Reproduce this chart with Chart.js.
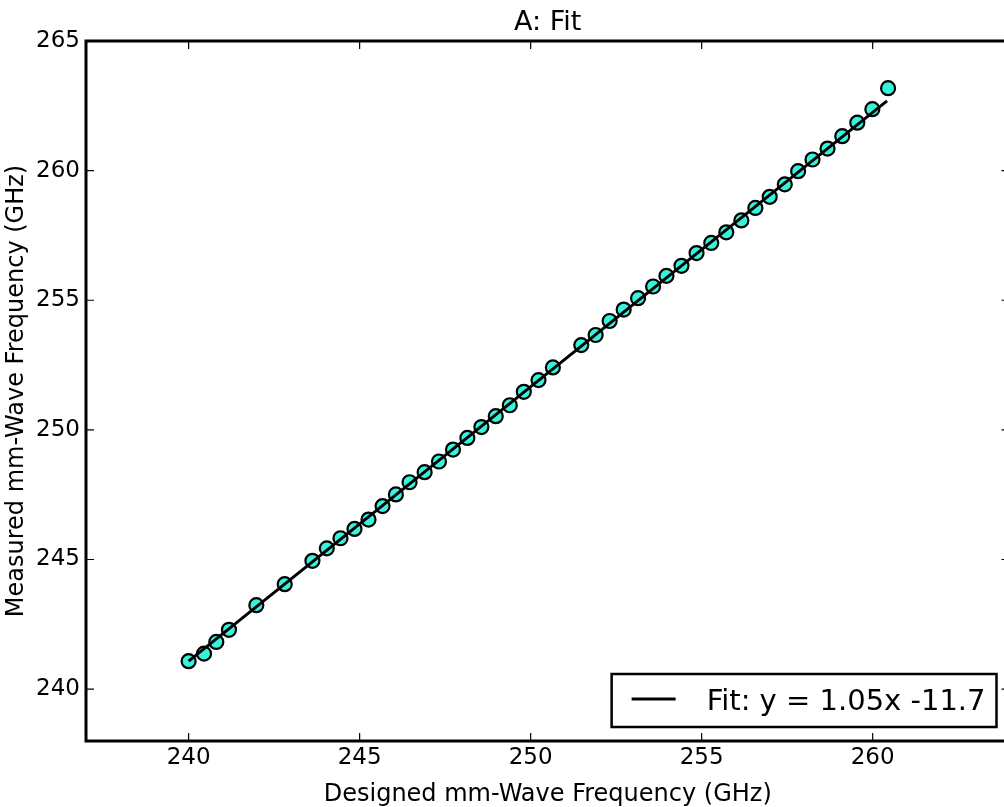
<!DOCTYPE html>
<html>
<head>
<meta charset="utf-8">
<script src="https://cdn.jsdelivr.net/npm/chart.js@4/dist/chart.umd.min.js"></script>
<style>
  html, body { margin: 0; padding: 0; background: #fff; overflow: hidden; }
  #wrap { width: 1012px; height: 807px; }
</style>
</head>
<body>
<div id="wrap"><canvas id="fitChart" width="1012" height="807"></canvas></div>
<script>
// data
const designedFreq = [240.0, 240.45, 240.81, 241.18, 241.98, 242.81, 243.62, 244.04, 244.44, 244.85,
  245.26, 245.67, 246.06, 246.46, 246.9, 247.32, 247.73, 248.15, 248.56, 248.98,
  249.39, 249.8, 250.23, 250.65, 251.48, 251.9, 252.31, 252.72, 253.14, 253.58,
  253.97, 254.41, 254.85, 255.28, 255.72, 256.16, 256.57, 256.99, 257.43, 257.82,
  258.24, 258.68, 259.11, 259.55, 259.99, 260.45];
const measuredFreq = [241.08, 241.37, 241.82, 242.29, 243.24, 244.05, 244.95, 245.43, 245.82, 246.18,
  246.54, 247.06, 247.51, 247.98, 248.37, 248.78, 249.24, 249.69, 250.11, 250.53,
  250.95, 251.47, 251.92, 252.41, 253.27, 253.66, 254.2, 254.64, 255.08, 255.53,
  255.94, 256.33, 256.82, 257.21, 257.62, 258.08, 258.56, 258.99, 259.47, 259.98,
  260.43, 260.85, 261.33, 261.85, 262.37, 263.18];
const fitX = [240.0, 260.42];
const fitY = [241.08, 262.69];
const fitLabel = "Fit: y = 1.05x -11.7";
const xTicks = [240, 245, 250, 255, 260];
const yTicks = [240, 245, 250, 255, 260, 265];

const FONT = "'DejaVu Sans', sans-serif";

// frame, inward ticks on all four sides, and the boxed legend
const framePlugin = {
  id: "frame",
  afterDraw(chart) {
    const ctx = chart.ctx;
    const ca = chart.chartArea;
    const xs = chart.scales.x;
    const ys = chart.scales.y;
    ctx.save();
    ctx.strokeStyle = "#000";
    ctx.lineWidth = 1.2;
    const tl = 8;
    ctx.beginPath();
    xTicks.forEach((v) => {
      const px = xs.getPixelForValue(v);
      ctx.moveTo(px, ca.bottom); ctx.lineTo(px, ca.bottom - tl);
      ctx.moveTo(px, ca.top); ctx.lineTo(px, ca.top + tl);
    });
    yTicks.forEach((v) => {
      const py = ys.getPixelForValue(v);
      ctx.moveTo(ca.left, py); ctx.lineTo(ca.left + tl, py);
      ctx.moveTo(ca.right, py); ctx.lineTo(ca.right - tl, py);
    });
    ctx.stroke();
    ctx.lineWidth = 3;
    ctx.strokeRect(ca.left, ca.top, ca.right - ca.left, ca.bottom - ca.top);

    // legend
    ctx.font = "29px " + FONT;
    const tw = ctx.measureText(fitLabel).width;
    const boxW = 20 + 44 + 31 + tw + 11;
    const boxH = 53;
    const bx = ca.right - 13 - boxW;
    const by = ca.bottom - 14 - boxH;
    ctx.fillStyle = "#fff";
    ctx.fillRect(bx, by, boxW, boxH);
    ctx.lineWidth = 2.5;
    ctx.strokeRect(bx, by, boxW, boxH);
    ctx.lineWidth = 3;
    ctx.beginPath();
    ctx.moveTo(bx + 20, by + 25);
    ctx.lineTo(bx + 64, by + 25);
    ctx.stroke();
    ctx.fillStyle = "#000";
    ctx.textBaseline = "alphabetic";
    ctx.fillText(fitLabel, bx + 95, by + 36);
    ctx.restore();
  }
};

const ctx = document.getElementById("fitChart").getContext("2d");
new Chart(ctx, {
  type: "scatter",
  data: {
    datasets: [
      {
        label: fitLabel,
        type: "line",
        data: fitX.map((x, i) => ({ x: x, y: fitY[i] })),
        borderColor: "#000",
        borderWidth: 3,
        pointRadius: 0,
        fill: false,
        order: 0
      },
      {
        label: "data",
        data: designedFreq.map((x, i) => ({ x: x, y: measuredFreq[i] })),
        backgroundColor: "#36f4dc",
        borderColor: "#000",
        borderWidth: 2.2,
        pointRadius: 7,
        order: 1
      }
    ]
  },
  plugins: [framePlugin],
  options: {
    responsive: false,
    animation: false,
    layout: { autoPadding: false, padding: { left: 0, right: 2.5, top: 0, bottom: 0 } },
    plugins: {
      legend: { display: false },
      tooltip: { enabled: false },
      title: {
        display: true,
        fullSize: false,
        text: "A: Fit",
        color: "#000",
        font: { family: FONT, size: 27, weight: "normal", lineHeight: 1.2 },
        padding: { top: 7, bottom: 1.6 }
      }
    },
    scales: {
      x: {
        type: "linear",
        min: 237,
        max: 264,
        afterBuildTicks: (s) => { s.ticks = xTicks.map((v) => ({ value: v })); },
        afterFit: (s) => { s.height = 66; },
        grid: { display: false },
        border: { display: false },
        ticks: {
          color: "#000",
          padding: -5,
          maxRotation: 0,
          font: { family: FONT, size: 23 }
        },
        title: {
          display: true,
          text: "Designed mm-Wave Frequency (GHz)",
          color: "#000",
          font: { family: FONT, size: 24 },
          padding: { top: 0, bottom: -2 }
        }
      },
      y: {
        type: "linear",
        min: 238,
        max: 265,
        afterBuildTicks: (s) => { s.ticks = yTicks.map((v) => ({ value: v })); },
        afterFit: (s) => { s.width = 86; },
        grid: { display: false },
        border: { display: false },
        ticks: {
          color: "#000",
          padding: -2,
          font: { family: FONT, size: 23 }
        },
        title: {
          display: true,
          text: "Measured mm-Wave Frequency (GHz)",
          color: "#000",
          font: { family: FONT, size: 24 },
          padding: { top: 2, bottom: 0 }
        }
      }
    }
  }
});
</script>
</body>
</html>
